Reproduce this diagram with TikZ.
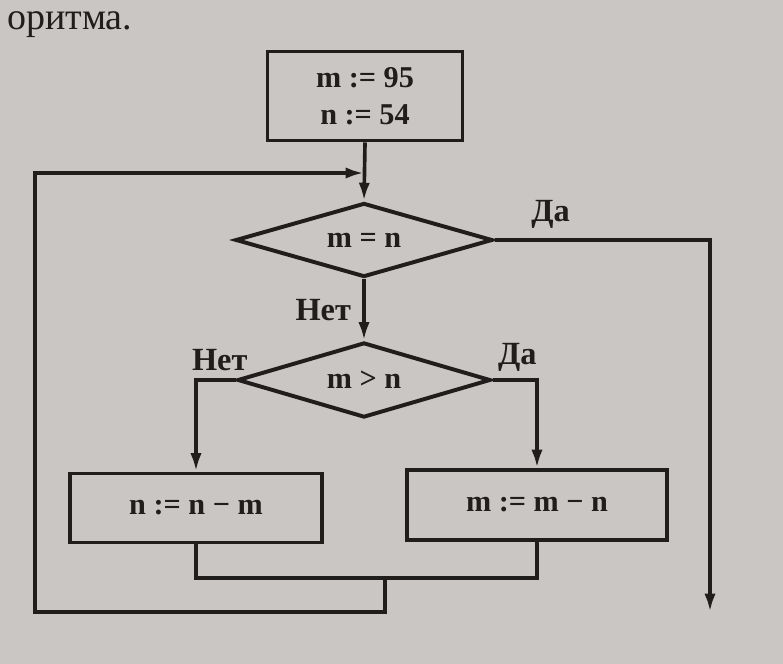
\documentclass[tikz,border=0pt]{standalone}
\usepackage{fontspec}
\setmainfont{Liberation Serif}
\usetikzlibrary{shapes.geometric, arrows.meta, positioning}
\definecolor{paper}{RGB}{201,198,196}
\definecolor{ink}{RGB}{32,29,29}

\begin{document}
\begin{tikzpicture}[x=0.025cm, y=-0.025cm,
    block/.style={rectangle, draw=ink, line width=2.8pt, text=ink, inner sep=0pt, align=center, font=\fontsize{21.5}{24}\selectfont\bfseries},
    cond/.style={diamond, draw=ink, line width=2.8pt, text=ink, inner sep=0pt, aspect=3.4, font=\fontsize{21.5}{24}\selectfont\bfseries},
    lbl/.style={text=ink, inner sep=0pt, font=\fontsize{23}{25}\selectfont\bfseries},
    line/.style={draw=ink, line width=2.6pt},
    arr/.style={line, -{Latex[length=13pt, width=8pt]}}
]
\fill[paper] (0,0) rectangle (783,664);
\useasboundingbox (0,0) rectangle (783,664);

\node[anchor=base west, text=ink, inner sep=0pt, font=\fontsize{27}{30}\selectfont] (Caption) at (7,29) {оритма.};

% blocks
\node[block, minimum width=4.875cm, minimum height=2.225cm] (Init) at (365,96) {m := 95\\[2pt]n := 54};
\node[cond, minimum width=6.425cm, minimum height=1.85cm] (CondEq) at (364,240) {m = n};
\node[cond, minimum width=6.325cm, minimum height=1.875cm] (CondGt) at (364,380) {m > n};
\node[block, minimum width=6.3cm, minimum height=1.725cm] (SubN) at (196,508) {n := n − m};
\node[block, minimum width=6.5cm, minimum height=1.75cm] (SubM) at (537,505) {m := m − n};

\coordinate (Join) at (385,578);
\coordinate (LoopCorner) at (35,612);
\coordinate (Back) at (364,173);
\coordinate (ExitEnd) at (710,612);

% connections
\draw[arr] (Init.south) -- (CondEq.north);
\draw[arr] (CondEq.east) -| (ExitEnd) node[lbl, pos=0.13, above=7pt] {Да};
\draw[arr] (CondEq.south) -- (CondGt.north) node[lbl, midway, left=8pt] {Нет};
\draw[arr] (CondGt.west) -| (SubN.north) node[lbl, pos=0.2, above=5pt] {Нет};
\draw[arr] (CondGt.east) -| (SubM.north) node[lbl, pos=0.28, above=5pt] {Да};
\draw[line] (SubN.south) |- (Join) -| (SubM.south);
\draw[arr] (Join) |- (LoopCorner) |- (Back);

\end{tikzpicture}
\end{document}
